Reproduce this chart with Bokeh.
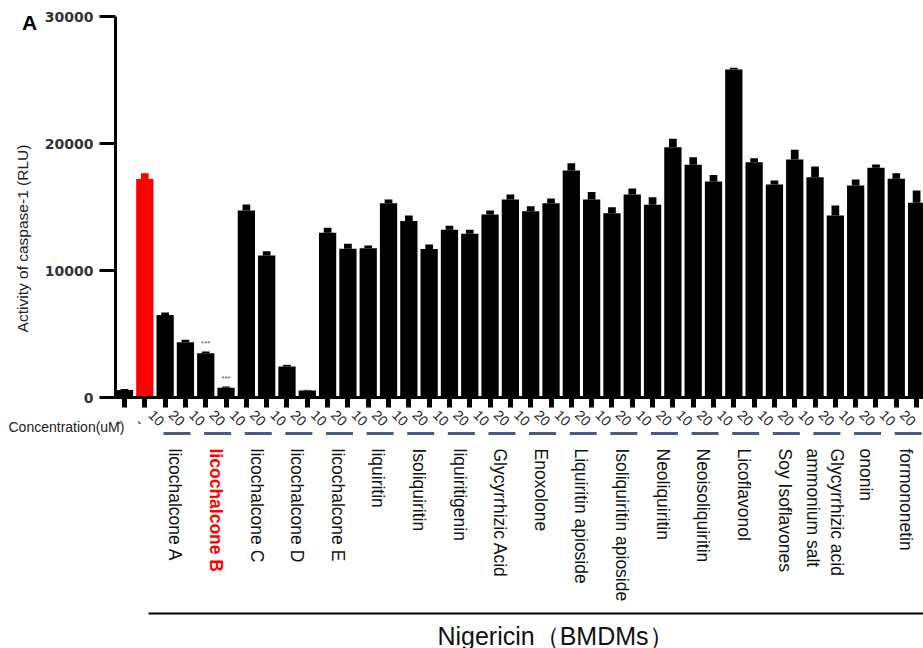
import math
from bokeh.plotting import figure
from bokeh.models import Range1d, FixedTicker, ColumnDataSource
from bokeh.core.properties import value
from bokeh.embed import file_html
from bokeh.resources import INLINE

# ---------------- data ----------------
conc_labels = ["-", "-"] + ["10", "20"] * 19
values = [600, 17200,
          6500, 4350, 3490, 760, 14720, 11180, 2440, 550, 12970, 11710,
          11760, 15300, 13900, 11700, 13200, 12900, 14410, 15590, 14670, 15300,
          17870, 15590, 14510, 15980, 15170, 19710, 18320, 17010, 25830, 18530,
          16770, 18740, 17350, 14330, 16690, 18090, 17220, 15330]
errors = [60, 450,
          200, 190, 130, 100, 470, 340, 130, 50, 390, 390,
          200, 300, 430, 350, 330, 300, 310, 390, 390, 370,
          580, 600, 470, 470, 600, 660, 600, 500, 130, 310,
          310, 760, 830, 790, 470, 260, 440, 960]
compounds = ["licochalcone A", "licochalcone B", "licochalcone C", "licochalcone D",
             "licochalcone E", "liquiritin", "Isoliquiritin", "liquiritigenin",
             "Glycyrrhizic Acid", "Enoxolone", "Liquiritin apioside",
             "Isoliquiritin apioside", "Neoliquiritin", "Neoisoliquiritin",
             "Licoflavonol", "Soy Isoflavones", "Glycyrrhizic acid\nammonium salt",
             "ononin", "formononetin"]
highlight_compound = "licochalcone B"
highlight_bar = 1
signif_bars = [4, 5]
signif_text = ["***", "***"]
y_ticks = [0, 10000, 20000, 30000]
y_title = "Activity of caspase-1 (RLU)"
conc_title = "Concentration(uM)"
group_title = "Nigericin（BMDMs）"
panel_letter = "A"

RED = "#ff0000"
SLATE = "#4a5d7e"
FONT = "Liberation Sans"
W, H = 923, 648

# axis geometry (pixels on the page)
AX_LEFT, AX_TOP, AX_W, AX_H = 115, 16, 808, 381
Y_MAX = 30000
X0, X1 = -0.443, 39.34            # data x at the y axis and at the right edge
DY = Y_MAX / AX_H                 # data units per pixel (vertical)
DX = (X1 - X0) / AX_W             # data units per pixel (horizontal)


def ypos(py):
    """page pixel row -> y data coordinate"""
    return (AX_TOP + AX_H - py) * DY


def xpos(px):
    """page pixel column -> x data coordinate"""
    return X0 + (px - AX_LEFT) * DX


n = len(values)
xs = list(range(n))
colors = [RED if i == highlight_bar else "black" for i in xs]

p = figure(width=W, height=H, output_backend="svg", toolbar_location=None,
           x_range=Range1d(xpos(0), xpos(W)), y_range=Range1d(ypos(H), ypos(0)),
           min_border=0, min_border_left=0, min_border_right=0,
           min_border_top=0, min_border_bottom=0)
p.outline_line_color = None
p.xgrid.visible = False
p.ygrid.visible = False
p.background_fill_color = "white"
p.border_fill_color = "white"

# y axis
p.yaxis.fixed_location = X0
p.yaxis.bounds = (0, Y_MAX)
p.yaxis.ticker = FixedTicker(ticks=y_ticks)
p.yaxis.axis_line_width = 3
p.yaxis.axis_line_color = "black"
p.yaxis.major_tick_line_width = 3
p.yaxis.major_tick_out = 16
p.yaxis.major_tick_in = 0
p.yaxis.minor_tick_line_color = None
p.yaxis.major_label_text_font = "DejaVu Sans"
p.yaxis.major_label_text_font_style = "bold"
p.yaxis.major_label_text_font_size = "14px"
p.yaxis.major_label_text_color = "#333333"
p.yaxis.major_label_standoff = 6

# x axis
p.xaxis.fixed_location = 0
p.xaxis.bounds = (X0, X1 + 1)
p.xaxis.ticker = FixedTicker(ticks=xs)
p.xaxis.axis_line_width = 3
p.xaxis.axis_line_color = "black"
p.xaxis.major_tick_line_width = 5
p.xaxis.major_tick_out = 10
p.xaxis.major_tick_in = 0
p.xaxis.minor_tick_line_color = None
p.xaxis.major_label_overrides = {i: "" for i in xs}
p.xaxis.major_label_text_font_size = "1px"

src = ColumnDataSource(dict(
    x=xs, top=values,
    etop=[v + e for v, e in zip(values, errors)],
    color=colors, conc=conc_labels))

p.vbar(x="x", top="top", bottom=0, width=0.85, fill_color="color",
       line_color=None, source=src)
p.vbar(x="x", bottom="top", top="etop", width=0.38, fill_color="color",
       line_color=None, source=src)

# significance marks
p.text(x=signif_bars,
       y=[values[i] + errors[i] + 650 for i in signif_bars],
       text=signif_text, text_align="center", text_baseline="middle",
       text_font=value(FONT), text_font_size="8px", text_color="#555555")

# concentration tick labels (rotated 45 degrees clockwise)
p.text(x="x", y=ypos(423), text="conc", source=src, angle=-0.25 * math.pi,
       angle_units="rad", text_align="right", text_baseline="middle",
       x_offset=-3, text_font=value(FONT), text_font_size="14px",
       text_color="#222222")

# compound underlines and names
firsts = [2 + 2 * k for k in range(len(compounds))]
p.segment(x0=[f - 0.08 for f in firsts], y0=ypos(433),
          x1=[f + 1.25 for f in firsts], y1=ypos(433),
          line_width=3, line_color=SLATE)

normal = [(f + 0.5, c) for f, c in zip(firsts, compounds) if c != highlight_compound]
special = [(f + 0.5, c) for f, c in zip(firsts, compounds) if c == highlight_compound]
p.text(x=[a for a, _ in normal], y=ypos(448), text=[b for _, b in normal],
       angle=-math.pi / 2, text_align="left", text_baseline="middle",
       text_font=value(FONT), text_font_size="17.5px", text_color="#111111")
p.text(x=[a for a, _ in special], y=ypos(448), text=[b for _, b in special],
       angle=-math.pi / 2, text_align="left", text_baseline="middle",
       text_font=value(FONT), text_font_size="17.5px", text_font_style="bold",
       text_color=RED)

# group bracket line and title
p.segment(x0=[xpos(148)], y0=ypos(613), x1=[X1 + 1], y1=ypos(613),
          line_width=2, line_color="black")
p.text(x=[xpos(555)], y=ypos(635), text=[group_title], text_align="center",
       text_baseline="middle", text_font=value(FONT), text_font_size="25px",
       text_color="#111111")

# axis titles and panel letter
p.text(x=[xpos(22)], y=ypos(238), text=[y_title], angle=math.pi / 2,
       text_align="center", text_baseline="middle", text_font=value(FONT),
       text_font_size="15.5px", text_color="#222222")
p.text(x=[xpos(8)], y=ypos(426), text=[conc_title], text_align="left",
       text_baseline="middle", text_font=value(FONT), text_font_size="14px",
       text_color="#222222")
p.text(x=[xpos(29)], y=ypos(22), text=[panel_letter], text_align="center",
       text_baseline="middle", text_font=value(FONT), text_font_size="21px",
       text_font_style="bold", text_color="black")

open("out.html", "w").write(file_html(p, INLINE))
